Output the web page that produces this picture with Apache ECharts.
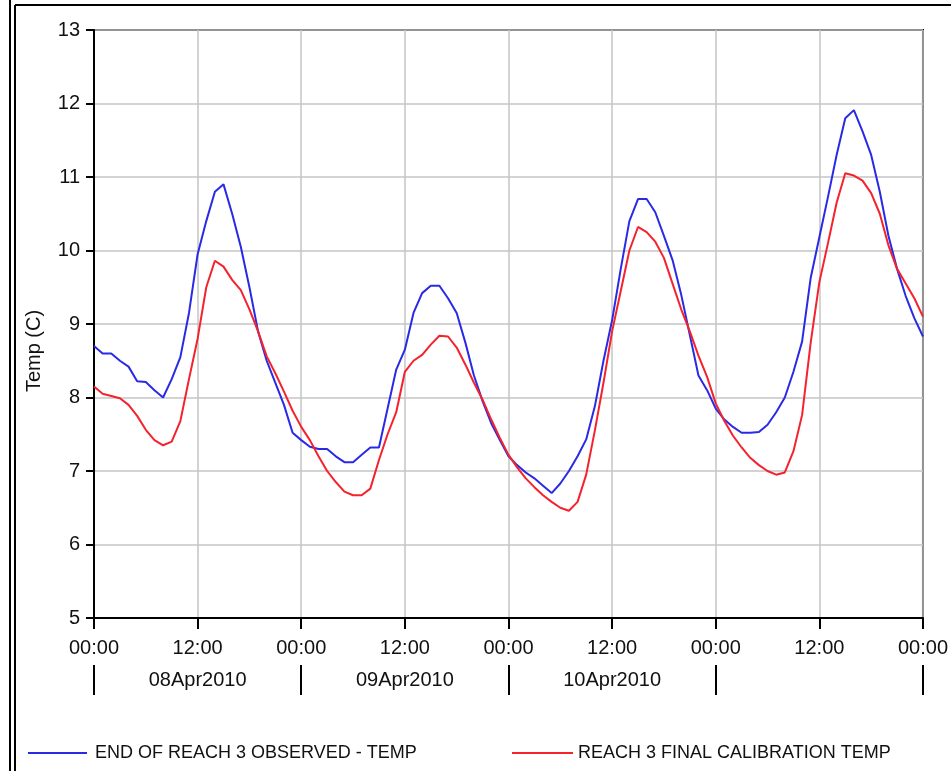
<!DOCTYPE html>
<html>
<head>
<meta charset="utf-8">
<script src="https://cdn.jsdelivr.net/npm/echarts@6/dist/echarts.min.js"></script>
<style>
  html, body { margin: 0; padding: 0; background: #fff; }
  #chart { width: 951px; height: 771px; }
</style>
</head>
<body>
<div id="chart"></div>
<script>
// Hourly water temperature, 08Apr2010 00:00 to 11Apr2010 00:00 (hour 0..96)
const hourTicks = ['00:00', '12:00', '00:00', '12:00', '00:00', '12:00', '00:00', '12:00', '00:00'];
const dayLabels = ['08Apr2010', '09Apr2010', '10Apr2010'];
const dayLabelHours = [12, 36, 60];
const dayBoundaryHours = [0, 24, 48, 72, 96];

const observedName = 'END OF REACH 3 OBSERVED - TEMP';
const calibratedName = 'REACH 3 FINAL CALIBRATION TEMP';

const observed = [
  8.70, 8.60, 8.60, 8.50, 8.42, 8.22, 8.21, 8.10, 8.00, 8.25, 8.55, 9.15,
  9.95, 10.40, 10.80, 10.90, 10.50, 10.05, 9.50, 8.90, 8.50, 8.20, 7.90, 7.52,
  7.42, 7.33, 7.30, 7.30, 7.20, 7.12, 7.12, 7.22, 7.32, 7.32, 7.85, 8.38,
  8.65, 9.15, 9.42, 9.52, 9.52, 9.35, 9.15, 8.75, 8.30, 7.95, 7.65, 7.42,
  7.20, 7.08, 6.98, 6.90, 6.80, 6.70, 6.83, 7.00, 7.20, 7.43, 7.88, 8.50,
  9.05, 9.75, 10.40, 10.70, 10.70, 10.52, 10.20, 9.87, 9.40, 8.85, 8.30, 8.10,
  7.85, 7.70, 7.60, 7.52, 7.52, 7.53, 7.63, 7.80, 8.00, 8.35, 8.76, 9.63,
  10.18, 10.73, 11.30, 11.80, 11.91, 11.62, 11.30, 10.80, 10.20, 9.75, 9.38, 9.08,
  8.83
];

const calibrated = [
  8.15, 8.05, 8.02, 7.99, 7.90, 7.75, 7.56, 7.42, 7.35, 7.40, 7.68, 8.25,
  8.80, 9.50, 9.86, 9.78, 9.60, 9.46, 9.20, 8.90, 8.56, 8.33, 8.08, 7.82,
  7.60, 7.42, 7.20, 7.00, 6.85, 6.72, 6.67, 6.67, 6.76, 7.15, 7.50, 7.80,
  8.35, 8.50, 8.58, 8.72, 8.84, 8.83, 8.68, 8.45, 8.20, 7.97, 7.70, 7.45,
  7.22, 7.05, 6.90, 6.78, 6.67, 6.58, 6.50, 6.46, 6.58, 6.95, 7.55, 8.20,
  8.90, 9.45, 10.00, 10.32, 10.25, 10.12, 9.90, 9.55, 9.20, 8.90, 8.57, 8.28,
  7.92, 7.68, 7.48, 7.32, 7.18, 7.08, 7.00, 6.95, 6.98, 7.27, 7.76, 8.75,
  9.57, 10.10, 10.65, 11.05, 11.02, 10.95, 10.78, 10.50, 10.07, 9.75, 9.55, 9.35,
  9.10
];

const FONT = '"Liberation Sans", Arial, sans-serif';
const TEXT = '#111';
const toPairs = arr => arr.map((v, i) => [i, v]);

const chart = echarts.init(document.getElementById('chart'), null, { renderer: 'canvas' });

chart.setOption({
  animation: false,
  backgroundColor: '#ffffff',
  textStyle: { fontFamily: FONT },
  grid: {
    left: 94, right: 28, top: 30, bottom: 153,
    show: true, borderColor: '#000', borderWidth: 2, backgroundColor: '#fff'
  },
  xAxis: [
    {
      type: 'value', min: 0, max: 96, interval: 12,
      axisLine: { show: true, lineStyle: { color: '#000', width: 2 } },
      axisTick: { show: true, length: 11, lineStyle: { color: '#000', width: 2 } },
      axisLabel: {
        margin: 20, fontSize: 20, color: TEXT, fontFamily: FONT,
        formatter: v => hourTicks[Math.round(v / 12)] ?? ''
      },
      splitLine: { show: true, lineStyle: { color: '#c4c4c4', width: 1.5 } }
    },
    {
      // second row: day names between the midnight separators
      type: 'value', min: 0, max: 96, position: 'bottom', offset: 47,
      axisLine: { show: false },
      axisTick: {
        show: true, length: 30, customValues: dayBoundaryHours,
        lineStyle: { color: '#000', width: 2 }
      },
      axisLabel: {
        show: true, margin: 5, fontSize: 20, color: TEXT, fontFamily: FONT,
        customValues: dayLabelHours,
        formatter: v => dayLabels[dayLabelHours.indexOf(Math.round(v))] ?? ''
      },
      splitLine: { show: false }
    }
  ],
  yAxis: {
    type: 'value', min: 5, max: 13, interval: 1,
    name: 'Temp (C)', nameLocation: 'middle', nameGap: 50,
    nameTextStyle: { fontSize: 20, color: TEXT, fontFamily: FONT, padding: [0, 54, 0, 0] },
    axisLine: { show: true, lineStyle: { color: '#000', width: 2 } },
    axisTick: { show: true, length: 8, lineStyle: { color: '#000', width: 2 } },
    axisLabel: { margin: 14, fontSize: 20, color: TEXT, fontFamily: FONT },
    splitLine: { show: true, lineStyle: { color: '#c4c4c4', width: 1.5 } }
  },
  legend: [
    {
      left: 23, top: 739, data: [observedName], icon: 'rect',
      itemWidth: 59, itemHeight: 2,
      textStyle: { fontSize: 18, color: TEXT, fontFamily: FONT, padding: [0, 0, 0, 3] }
    },
    {
      left: 507, top: 739, data: [calibratedName], icon: 'rect',
      itemWidth: 61, itemHeight: 2,
      textStyle: { fontSize: 18, color: TEXT, fontFamily: FONT, padding: [0, 0, 0, 0] }
    }
  ],
  series: [
    {
      name: observedName, type: 'line', xAxisIndex: 0,
      data: toPairs(observed), symbol: 'none',
      lineStyle: { color: '#2a2ae6', width: 2 }, itemStyle: { color: '#2a2ae6' }
    },
    {
      name: calibratedName, type: 'line', xAxisIndex: 0,
      data: toPairs(calibrated), symbol: 'none',
      lineStyle: { color: '#f5222d', width: 2 }, itemStyle: { color: '#f5222d' }
    }
  ],
  graphic: [
    { type: 'line', shape: { x1: 10, y1: 0, x2: 10, y2: 771 }, style: { stroke: '#000', lineWidth: 2 } },
    { type: 'line', shape: { x1: 15, y1: 5, x2: 15, y2: 771 }, style: { stroke: '#000', lineWidth: 2 } },
    { type: 'line', shape: { x1: 15, y1: 5, x2: 951, y2: 5 }, style: { stroke: '#000', lineWidth: 2 } }
  ]
});
</script>
</body>
</html>
